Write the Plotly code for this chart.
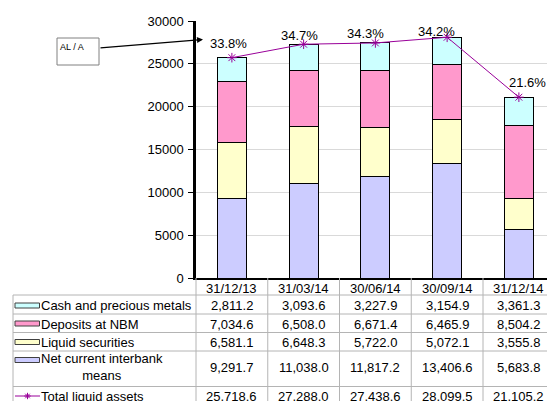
import plotly.graph_objects as go

# ---- data -------------------------------------------------------------
categories = ["31/12/13", "31/03/14", "30/06/14", "30/09/14", "31/12/14"]
cash_metals = [2811.2, 3093.6, 3227.9, 3154.9, 3361.3]
deposits_nbm = [7034.6, 6508.0, 6671.4, 6465.9, 8504.2]
liquid_securities = [6581.1, 6648.3, 5722.0, 5072.1, 3555.8]
interbank_means = [9291.7, 11038.0, 11817.2, 13406.6, 5683.8]
total_liquid = [25718.6, 27288.0, 27438.6, 28099.5, 21105.2]
al_a_ratio = [33.8, 34.7, 34.3, 34.2, 21.6]
y_ticks = [0, 5000, 10000, 15000, 20000, 25000, 30000]

series_names = ["Cash and precious metals", "Deposits at NBM",
                "Liquid securities", "Net current interbank<br>means"]
series_values = [cash_metals, deposits_nbm, liquid_securities, interbank_means]
series_colors = ["#CCFFFF", "#FF99CC", "#FFFFCC", "#CCCCFF"]
line_name = "Total liquid assets"
line_color = "#990099"

# ---- geometry ---------------------------------------------------------
W, H = 547, 401
L, R, T, B = 196, 0, 21, 123
PW, PH = W - L - R, H - T - B
CAT_PX = 71.75
x_range = [-0.5, -0.5 + PW / CAT_PX]
FONT = "Liberation Sans, Arial, sans-serif"
GRID = "#D9D9D9"
TABLE_LINE = "#B4B4B4"


def fx(px):
    return (px - L) / PW


def fy(py):
    return (T + PH - py) / PH


def cat_paper(xd):
    return (xd - x_range[0]) / (x_range[1] - x_range[0])


def text_ann(x, y, text, xref="paper", yref="paper", xanchor="center",
             size=13, **kw):
    return dict(x=x, y=y, xref=xref, yref=yref, text=text, showarrow=False,
                xanchor=xanchor, yanchor="middle",
                font=dict(size=size, color="#000000", family=FONT), **kw)


fig = go.Figure()

# stacked bars, bottom to top
for name, vals, col in reversed(list(zip(series_names, series_values, series_colors))):
    fig.add_trace(go.Bar(
        x=categories, y=vals, name=name.replace("<br>", " "),
        marker=dict(color=col, line=dict(color="#000000", width=1)),
        width=0.404,
    ))

fig.add_trace(go.Scatter(
    x=categories, y=total_liquid, name=line_name, mode="lines+markers",
    line=dict(color=line_color, width=1),
    marker=dict(symbol="asterisk-open", size=8,
                line=dict(color=line_color, width=1)),
    cliponaxis=False,
))

annotations = []
shapes = []

# ratio labels above the total line
x_shifts = [-3, -4, -10, -11, 9]
y_shifts = [14, 9, 9, 6, 15]
for c, tot, r, xs, ys in zip(categories, total_liquid, al_a_ratio, x_shifts, y_shifts):
    annotations.append(text_ann(c, tot, f"{r:.1f}%", xref="x", yref="y",
                                xshift=xs, yshift=ys))

# ---- data table under the plot ----------------------------------------
row_lines = [295, 314, 332.5, 351, 386.5]
for py in row_lines:
    shapes.append(dict(type="line", xref="paper", yref="paper",
                       x0=fx(13), x1=1.0, y0=fy(py), y1=fy(py),
                       line=dict(color=TABLE_LINE, width=1)))
shapes.append(dict(type="line", xref="paper", yref="paper",
                   x0=fx(13), x1=fx(13), y0=fy(295), y1=fy(H + 2),
                   line=dict(color=TABLE_LINE, width=1)))
shapes.append(dict(type="line", xref="paper", yref="paper",
                   x0=0, x1=0, y0=fy(278), y1=fy(H + 2),
                   line=dict(color=TABLE_LINE, width=1)))
for i in range(len(categories) - 1):
    xp = cat_paper(i + 0.5)
    shapes.append(dict(type="line", xref="paper", yref="paper",
                       x0=xp, x1=xp, y0=fy(278), y1=fy(H + 2),
                       line=dict(color=TABLE_LINE, width=1)))

# header row: category labels
for c in categories:
    annotations.append(text_ann(c, fy(288), c, xref="x"))

row_y = [305.5, 324, 342.5, 367]
key_y = [305.5, 323.5, 342, 360]
for name, vals, col, ry, ky in zip(series_names, series_values, series_colors, row_y, key_y):
    shapes.append(dict(type="rect", xref="paper", yref="paper",
                       x0=fx(15), x1=fx(39.5), y0=fy(ky + 2.5), y1=fy(ky - 2.5),
                       fillcolor=col, line=dict(color="#404040", width=1)))
    if "<br>" in name:
        annotations.append(text_ann(fx(102), fy(ry), name, align="center"))
    else:
        annotations.append(text_ann(fx(39), fy(ry), name, xanchor="left"))
    for c, v in zip(categories, vals):
        annotations.append(text_ann(c, fy(ry), f"{v:,.1f}", xref="x"))

# total row with line key
tot_y = 396
shapes.append(dict(type="line", xref="paper", yref="paper",
                   x0=fx(15), x1=fx(40), y0=fy(tot_y), y1=fy(tot_y),
                   line=dict(color=line_color, width=1)))
mx, my, s = 27.5, tot_y, 3.2
star = (f"M {fx(mx - s)} {fy(my)} L {fx(mx + s)} {fy(my)} "
        f"M {fx(mx)} {fy(my - s)} L {fx(mx)} {fy(my + s)} "
        f"M {fx(mx - s * 0.7)} {fy(my - s * 0.7)} L {fx(mx + s * 0.7)} {fy(my + s * 0.7)} "
        f"M {fx(mx - s * 0.7)} {fy(my + s * 0.7)} L {fx(mx + s * 0.7)} {fy(my - s * 0.7)}")
shapes.append(dict(type="path", xref="paper", yref="paper", path=star,
                   line=dict(color=line_color, width=1)))
annotations.append(text_ann(fx(39), fy(tot_y), line_name, xanchor="left"))
for c, v in zip(categories, total_liquid):
    annotations.append(text_ann(c, fy(tot_y), f"{v:,.1f}", xref="x"))

# ---- "AL / A" callout box with arrow ------------------------------------
shapes.append(dict(type="rect", xref="paper", yref="paper",
                   x0=fx(57), x1=fx(99), y0=fy(65), y1=fy(38),
                   fillcolor="#FFFFFF", line=dict(color="#808080", width=1)))
annotations.append(text_ann(fx(57.5), fy(46.5), "AL / A", xanchor="left", size=9))
annotations.append(dict(
    x=fx(203), y=fy(39.5), xref="paper", yref="paper", text="",
    showarrow=True, ax=-(203 - 99), ay=48 - 39.5, axref="pixel", ayref="pixel",
    arrowhead=2, arrowsize=1, arrowwidth=1.2, arrowcolor="#000000", standoff=0,
))

fig.update_layout(
    width=W, height=H,
    margin=dict(l=L, r=R, t=T, b=B, pad=0, autoexpand=False),
    barmode="stack",
    showlegend=False,
    plot_bgcolor="#FFFFFF", paper_bgcolor="#FFFFFF",
    font=dict(family=FONT, size=13, color="#000000"),
    shapes=shapes, annotations=annotations,
    xaxis=dict(
        type="category", range=x_range, showticklabels=False, ticks="",
        showgrid=False, showline=True, linecolor="#000000", linewidth=2,
        zeroline=False, fixedrange=True,
    ),
    yaxis=dict(
        range=[0, 30000], tickvals=y_ticks, tickformat="d",
        ticks="outside", ticklen=5, tickwidth=1, tickcolor="#000000",
        ticklabelstandoff=2,
        showline=True, linecolor="#000000", linewidth=2.5,
        showgrid=True, gridcolor=GRID, gridwidth=1, zeroline=False,
        tickfont=dict(size=13, color="#000000", family=FONT),
        fixedrange=True,
    ),
)

fig.write_html("out.html")
